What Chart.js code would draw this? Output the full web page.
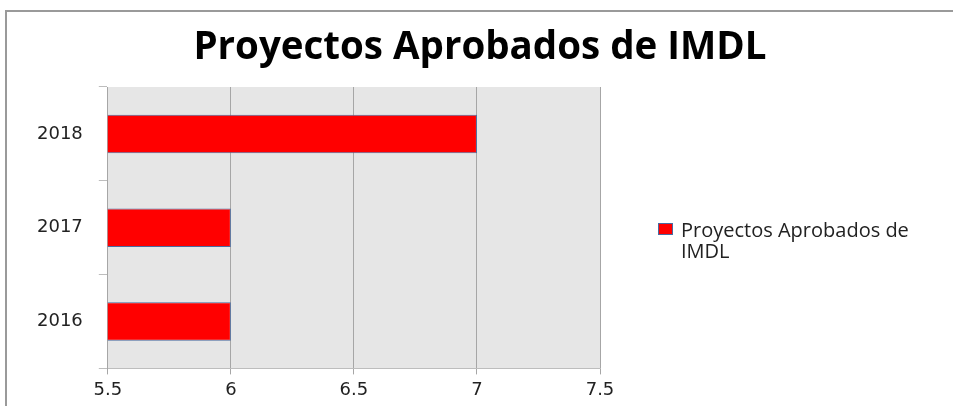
<!DOCTYPE html>
<html>
<head>
<meta charset="utf-8">
<script src="https://cdn.jsdelivr.net/npm/chart.js@4.4.1/dist/chart.umd.min.js"></script>
<style>
  html, body { margin: 0; padding: 0; background: #fff; overflow: hidden; }
  #wrap { position: absolute; left: 0; top: 0; width: 953px; height: 406px; }
</style>
</head>
<body>
<div id="wrap"><canvas id="chart"></canvas></div>
<script>
// chart data
const years = ["2016", "2017", "2018"];
const approved = [6, 6, 7];
const xTicks = [5.5, 6, 6.5, 7, 7.5];
const seriesName = "Proyectos Aprobados de IMDL";
const chartTitle = "Proyectos Aprobados de IMDL";

// outer frame + grey plot area behind the bars
const plotBackground = {
  id: "plotBackground",
  beforeDraw(chart) {
    const { ctx, chartArea: a, width, height } = chart;
    ctx.save();
    ctx.strokeStyle = "#9a9a9a";
    ctx.lineWidth = 2;
    ctx.beginPath();
    ctx.moveTo(6, height);
    ctx.lineTo(6, 11);
    ctx.lineTo(width + 4, 11);
    ctx.stroke();
    ctx.fillStyle = "#e6e6e6";
    ctx.fillRect(a.left, a.top, a.right - a.left, a.bottom - a.top);
    ctx.restore();
  },
};

// title centred over the whole picture, legend with wrapped text on the right
const titleAndLegend = {
  id: "titleAndLegend",
  afterDraw(chart) {
    const { ctx, chartArea: a } = chart;
    ctx.save();
    ctx.fillStyle = "#000";
    ctx.font = "bold 38.5px 'Open Sans'";
    ctx.textAlign = "center";
    ctx.textBaseline = "alphabetic";
    ctx.fillText(chartTitle, 480, 59);

    const ds = chart.data.datasets[0];
    const boxX = a.right + 58;
    const boxY = 223;
    ctx.fillStyle = ds.backgroundColor;
    ctx.fillRect(boxX, boxY, 15, 12);
    ctx.strokeStyle = ds.borderColor;
    ctx.lineWidth = 1;
    ctx.strokeRect(boxX + 0.5, boxY + 0.5, 14, 11);

    ctx.font = "20px 'Open Sans'";
    ctx.textAlign = "left";
    ctx.textBaseline = "middle";
    ctx.fillStyle = "#222";
    const words = ds.label.split(" ");
    const maxW = 262;
    const lines = [];
    let line = "";
    words.forEach((w) => {
      const test = line ? line + " " + w : w;
      if (ctx.measureText(test).width > maxW && line) {
        lines.push(line);
        line = w;
      } else {
        line = test;
      }
    });
    lines.push(line);
    lines.forEach((l, i) => ctx.fillText(l, boxX + 23, boxY + 8 + i * 21));
    ctx.restore();
  },
};

const ctx = document.getElementById("chart").getContext("2d");
const chart = new Chart(ctx, {
  type: "bar",
  data: {
    labels: years,
    datasets: [
      {
        label: seriesName,
        data: approved,
        backgroundColor: "#ff0000",
        borderColor: "#4a6aa0",
        borderWidth: 1,
        categoryPercentage: 1,
        barPercentage: 0.41,
      },
    ],
  },
  options: {
    indexAxis: "y",
    responsive: true,
    maintainAspectRatio: false,
    animation: false,
    layout: { padding: { left: 21, right: 353, top: 87, bottom: 0 } },
    plugins: {
      legend: { display: false },
      title: { display: false },
      tooltip: { enabled: false },
    },
    scales: {
      x: {
        type: "linear",
        min: 5.5,
        max: 7.5,
        afterBuildTicks: (s) => {
          s.ticks = xTicks.map((v) => ({ value: v }));
        },
        grid: { color: "#a6a6a6", tickLength: 6 },
        border: { color: "#bdbdbd" },
        ticks: {
          padding: 5,
          color: "#222",
          font: { family: "'DejaVu Sans'", size: 18 },
          callback: (v) => String(v),
        },
      },
      y: {
        type: "category",
        reverse: true,
        offset: true,
        grid: { offset: true, drawOnChartArea: false, tickLength: 9, color: "#bdbdbd" },
        border: { color: "#a6a6a6" },
        ticks: {
          padding: 16,
          color: "#222",
          font: { family: "'DejaVu Sans'", size: 18 },
        },
      },
    },
  },
  plugins: [plotBackground, titleAndLegend],
});
</script>
</body>
</html>
